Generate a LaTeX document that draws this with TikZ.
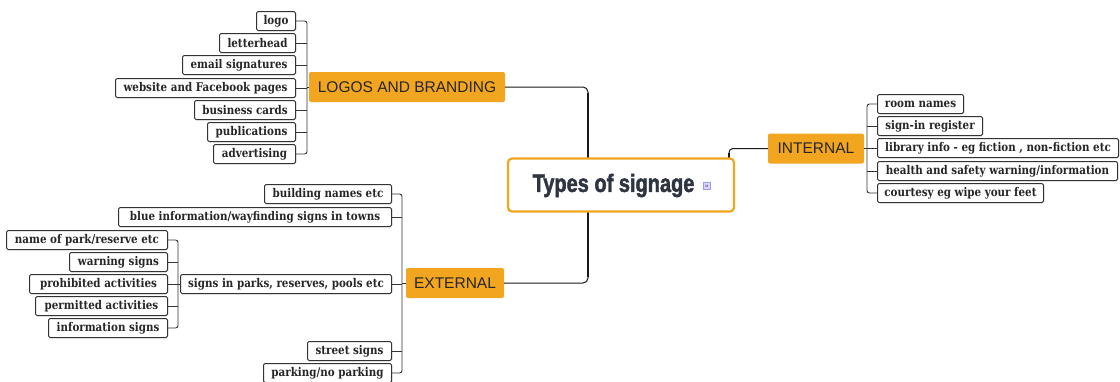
\documentclass[tikz,border=0pt]{standalone}
\usepackage{fontspec}
\setmainfont{DejaVu Serif}
\newfontfamily\catfont{Liberation Sans}
\newfontfamily\titlefont[BoldFeatures={FakeBold=2}]{Liberation Sans}
\usetikzlibrary{shadows}
\definecolor{org}{HTML}{F2A51F}
\definecolor{titlec}{HTML}{2E3440}
\definecolor{linec}{HTML}{333333}
\newcommand\lt[1]{\scalebox{0.86}[1]{#1}}
\tikzset{
  leaf/.style={draw=black!80, line width=1pt, fill=white, rounded corners=1.5pt,
    minimum height=19pt, inner sep=0pt, font=\bfseries\fontsize{12}{13}\selectfont, text=black!85,
    drop shadow={shadow xshift=0.7pt, shadow yshift=-0.7pt, fill=black!45, opacity=0.6}},
  cat/.style={fill=org, rounded corners=2pt, minimum height=30pt, inner sep=0pt,
    font=\catfont\fontsize{15.5}{16}\selectfont, text=black!85},
  br/.style={draw=linec, line width=0.9pt, rounded corners=2.5pt},
  mainln/.style={draw=black!90, line width=1pt, rounded corners=5pt},
}
\begin{document}
\begin{tikzpicture}[x=1pt,y=-1pt]
\useasboundingbox (0,0) rectangle (1120,381);
% category nodes
\node[cat, minimum width=196pt] (logos) at (407,87) {LOGOS AND BRANDING};
\node[cat, minimum width=96pt] (internal) at (816,148.5) {INTERNAL};
\node[cat, minimum width=98pt] (external) at (455,283) {EXTERNAL};
% main connectors
\coordinate (mv) at (588,0);
\draw[mainln] (logos.east) -| (mv |- external.east) -- (external.east);
\draw[black!90, line width=2.6pt] (588,93) -- (588,277);
\coordinate (iv) at (729,0);
\draw[mainln, rounded corners=4pt] (iv |- 0,160) -- (iv |- internal.west) -- (internal.west);
\draw[black!90, line width=2.4pt] (729,160) -- (729,153);
% centre
\node[draw=org, line width=2.2pt, fill=white, rounded corners=4pt,
  minimum width=226pt, minimum height=53pt] (center) at (621,185) {};
\node[font=\titlefont\bfseries\fontsize{25}{26}\selectfont, text=titlec, inner sep=0pt]
  (title) at (613.5,185.5) {\scalebox{0.8}[1]{Types of signage}};
\node[draw=blue!40, fill=blue!15, minimum width=7pt, minimum height=7pt, inner sep=0pt,
  font=\fontsize{3}{3}\selectfont, text=blue!60!black] (icon) at (707,186) {M};
% logos leaves
\node[leaf, minimum width=39pt, anchor=east] (l1) at (296,21) {\lt{logo}};
\node[leaf, minimum width=76pt, anchor=east] (l2) at (296,43) {\lt{letterhead}};
\node[leaf, minimum width=113pt, anchor=east] (l3) at (296,65) {\lt{email signatures}};
\node[leaf, minimum width=180pt, anchor=east] (l4) at (296,88) {\lt{website and Facebook pages}};
\node[leaf, minimum width=101pt, anchor=east] (l5) at (296,110) {\lt{business cards}};
\node[leaf, minimum width=88pt, anchor=east] (l6) at (296,132) {\lt{publications}};
\node[leaf, minimum width=82pt, anchor=east] (l7) at (296,154) {\lt{advertising}};
\coordinate (lb) at (307,0);
\draw[br] (l1.east) -| (lb |- logos.west) |- (l7.east);
\foreach \n in {l2,l3,l4,l5,l6} \draw[br] (\n.east) -- (lb |- \n.east);
\draw[br] (lb |- logos.west) -- (logos.west);
% internal leaves
\node[leaf, minimum width=86pt, anchor=west] (i1) at (877,104) {\lt{room names}};
\node[leaf, minimum width=105pt, anchor=west] (i2) at (877,126) {\lt{sign-in register}};
\node[leaf, minimum width=241pt, anchor=west] (i3) at (877,148) {\lt{library info - eg fiction , non-fiction etc}};
\node[leaf, minimum width=240pt, anchor=west] (i4) at (877,171) {\lt{health and safety warning/information}};
\node[leaf, minimum width=166pt, anchor=west] (i5) at (877,193) {\lt{courtesy eg wipe your feet}};
\coordinate (ib) at (867,0);
\draw[br] (i1.west) -| (ib |- internal.east) |- (i5.west);
\foreach \n in {i2,i3,i4} \draw[br] (\n.west) -- (ib |- \n.west);
\draw[br] (ib |- internal.east) -- (internal.east);
% external leaves
\node[leaf, minimum width=127pt, anchor=east] (e1) at (392,194) {\lt{building names etc}};
\node[leaf, minimum width=273pt, anchor=east] (e2) at (392,217) {\lt{blue information/wayfinding signs in towns}};
\node[leaf, minimum width=211pt, anchor=east] (e3) at (392,284) {\lt{signs in parks, reserves, pools etc}};
\node[leaf, minimum width=84pt, anchor=east] (e4) at (392,351) {\lt{street signs}};
\node[leaf, minimum width=128pt, anchor=east] (e5) at (392,373) {\lt{parking/no parking}};
\coordinate (eb) at (402,0);
\draw[br] (e1.east) -| (eb |- external.west) |- (e5.east);
\foreach \n in {e2,e3,e4} \draw[br] (\n.east) -- (eb |- \n.east);
\draw[br] (eb |- external.west) -- (external.west);
% parks sub leaves
\node[leaf, minimum width=161pt, anchor=east] (p1) at (168,240) {\lt{name of park/reserve etc}};
\node[leaf, minimum width=98pt, anchor=east] (p2) at (168,262) {\lt{warning signs}};
\node[leaf, minimum width=138pt, anchor=east] (p3) at (168,284) {\lt{prohibited activities}};
\node[leaf, minimum width=132pt, anchor=east] (p4) at (168,306) {\lt{permitted activities}};
\node[leaf, minimum width=119pt, anchor=east] (p5) at (168,328) {\lt{information signs}};
\coordinate (pb) at (178,0);
\draw[br] (p1.east) -| (pb |- e3.west) |- (p5.east);
\foreach \n in {p2,p3,p4} \draw[br] (\n.east) -- (pb |- \n.east);
\draw[br] (pb |- e3.west) -- (e3.west);
\end{tikzpicture}
\end{document}
